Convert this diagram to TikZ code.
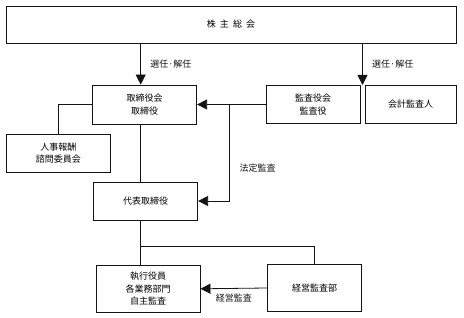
\documentclass[tikz,border=0pt]{standalone}
\usepackage{fontspec}
\usepackage{tikz}
\usetikzlibrary{arrows.meta, positioning, calc}
\newfontfamily\jpfont{Noto Sans CJK JP}
\definecolor{mydark}{RGB}{20,20,20}
\tikzset{
  box/.style={rectangle, draw=mydark, fill=white, align=center,
    line width=0.8pt, inner sep=2pt},
  arrow/.style={-{Triangle[length=10pt, width=10pt]}, line width=0.8pt, color=mydark},
  line/.style={line width=0.8pt, color=mydark}
}

\begin{document}
\begin{tikzpicture}[x=1pt, y=-1pt, every node/.style={font=\jpfont\fontsize{9}{12.5}\selectfont}]
  \useasboundingbox (0,0) rectangle (464,318);

  % General meeting of shareholders
  \node[box, minimum width=450pt, minimum height=37pt] (gm) at (231, 24.5) {株\ \ 主\ \ 総\ \ 会};

  % Board and auditors
  \node[box, minimum width=104pt, minimum height=39pt] (board) at (144.7, 104.5) {取締役会\\取締役};
  \node[box, minimum width=94pt, minimum height=38pt] (audit) at (313, 104.5) {監査役会\\監査役};
  \node[box, minimum width=91pt, minimum height=38pt] (acct) at (410.5, 104.5) {会計監査人};

  % Advisory committee
  \node[box, minimum width=104.7pt, minimum height=38pt] (comp) at (58.3, 153) {人事報酬\\諮問委員会};

  % Representative director
  \node[box, minimum width=104.4pt, minimum height=38pt] (rep) at (145.5, 201) {代表取締役};

  % Executives and internal audit
  \node[box, minimum width=103.7pt, minimum height=47.7pt] (exec) at (148.2, 288.8) {執行役員\\各業務部門\\自主監査};
  \node[box, minimum width=94pt, minimum height=47.4pt] (intaudit) at (314.7, 288) {経営監査部};

  % Helper points
  \coordinate (trunk) at (140.7, 246.3);
  \coordinate (split) at (362.5, 85);
  \coordinate (tap) at (229, 104.5);

  % Election and dismissal
  \draw[arrow] (gm.south -| trunk) -- (board.north -| trunk) node[midway, right=6pt] {選任·解任};
  \draw[arrow] (gm.south -| split) -- (split) node[midway, right=6pt] {選任·解任};

  % Statutory audit
  \draw[arrow] (audit.west) -- (board.east);
  \draw[arrow] (tap) |- (rep.east) node[pos=0.33, right=7pt] {法定監査};

  % Reporting lines
  \draw[line] (board.west) -| (comp.north);
  \draw[line] (board.south -| trunk) -- (rep.north -| trunk);
  \draw[line] (rep.south -| trunk) -- (exec.north -| trunk);
  \draw[line] (trunk) -| (intaudit.north);

  % Management audit
  \draw[arrow] (intaudit.west) -- (exec.east) node[midway, below=2pt] {経営監査};
\end{tikzpicture}
\end{document}
